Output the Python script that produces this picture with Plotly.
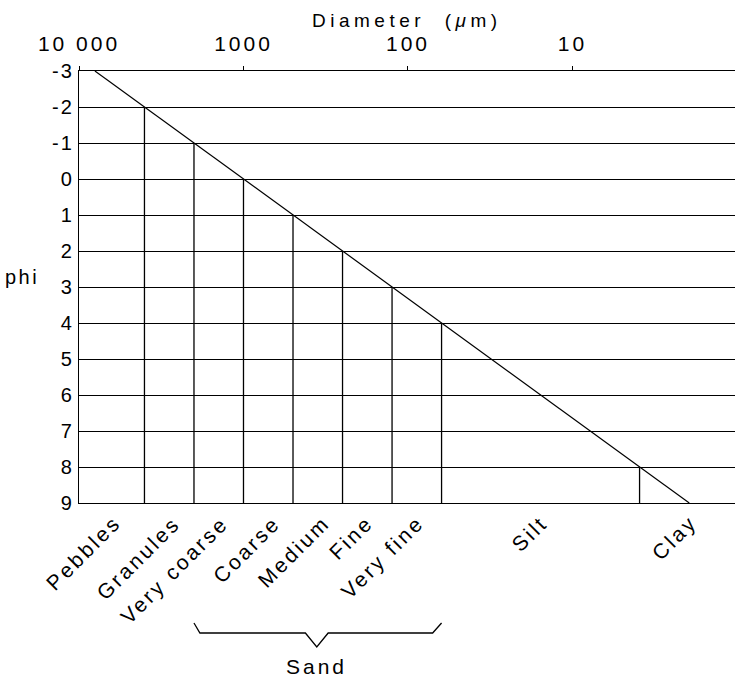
import math
import plotly.graph_objects as go

# ---- data ----
phi_levels = [-3, -2, -1, 0, 1, 2, 3, 4, 5, 6, 7, 8, 9]
diameter_um = [8000, 4000, 2000, 1000, 500, 250, 125, 62.5, 31.25, 15.63, 7.81, 3.91, 1.95]
boundary_phi = [-2, -1, 0, 1, 2, 3, 4, 8]
boundary_um = [4000, 2000, 1000, 500, 250, 125, 62.5, 3.91]
classes = ["Pebbles", "Granules", "Very coarse", "Coarse", "Medium", "Fine", "Very fine", "Silt", "Clay"]
x_tickvals = [10000, 1000, 100, 10]
x_ticktext = ["10 000", "1000", "100", "10"]
y_tickvals = phi_levels
y_ticktext = ["-3", "-2", "-1", "0", "1", "2", "3", "4", "5", "6", "7", "8", "9"]

# ---- layout helpers (positions only) ----
FONT = "Liberation Sans, Arial, Helvetica, sans-serif"
W, H = 735, 678
ML, MR, MT, MB = 79, 0, 71, 175
PH = H - MT - MB


def d_of(phi):
    return 1000.0 * 2 ** (-phi)


def sp(text, px):
    return f'<span style="letter-spacing:{px}px">{text}</span>'


label_phi = [-2.32, -1.13, -0.16, 0.88, 1.89, 2.76, 3.80, 6.28, 9.30]

fig = go.Figure()

# diagonal phi-diameter line
fig.add_trace(go.Scatter(x=diameter_um, y=phi_levels, mode="lines",
                         line=dict(color="black", width=1.2),
                         hoverinfo="skip", showlegend=False))

# vertical class boundaries
vx, vy = [], []
for d, p in zip(boundary_um, boundary_phi):
    vx += [d, d, None]
    vy += [p, 9, None]
fig.add_trace(go.Scatter(x=vx, y=vy, mode="lines",
                         line=dict(color="black", width=1.3),
                         hoverinfo="skip", showlegend=False))

ann = []
for name, p in zip(classes, label_phi):
    ann.append(dict(x=math.log10(d_of(p)), xref="x", y=0, yref="paper",
                    yshift=-5, xanchor="right", yanchor="top", textangle=-45,
                    text=sp(name, 2.8), showarrow=False,
                    font=dict(family=FONT, size=21, color="black")))

# Sand bracket
br = [(-1, 120), (-0.88, 130), (1.25, 130), (1.48, 144), (1.71, 130), (3.82, 130), (4, 120)]
path = ""
for i, (p, px) in enumerate(br):
    path += ("M" if i == 0 else "L") + f"{d_of(p)},{-px / PH}"
shapes = [dict(type="path", xref="x", yref="paper", path=path,
               line=dict(color="black", width=1.3))]
ann.append(dict(x=math.log10(d_of(1.48)), xref="x", y=0, yref="paper", yshift=-163,
                xanchor="center", yanchor="middle", text=sp("Sand", 3), showarrow=False,
                font=dict(family=FONT, size=21, color="black")))

# axis titles as annotations
ann.append(dict(x=0.5, xref="paper", y=1, yref="paper", yshift=51,
                xanchor="center", yanchor="middle",
                text=sp("Diameter  (<i>μ</i>m)", 4.5), showarrow=False,
                font=dict(family=FONT, size=19, color="black")))
ann.append(dict(x=0, xref="paper", xshift=-57, y=2.72, yref="y",
                xanchor="center", yanchor="middle", text=sp("phi", 2.5), showarrow=False,
                font=dict(family=FONT, size=20, color="black")))

fig.update_layout(
    width=W, height=H,
    margin=dict(l=ML, r=MR, t=MT, b=MB, pad=0),
    paper_bgcolor="white", plot_bgcolor="white",
    showlegend=False,
    annotations=ann, shapes=shapes,
    font=dict(family=FONT, size=20, color="black"),
    xaxis=dict(type="log", range=[4, 0.012], side="top",
               tickvals=x_tickvals, ticktext=[sp(t, 3) for t in x_ticktext],
               ticks="outside", ticklen=4, tickwidth=1.3, tickcolor="black",
               ticklabelstandoff=6,
               showgrid=False, zeroline=False,
               showline=True, linecolor="black", linewidth=1.3, mirror=True,
               tickfont=dict(family=FONT, size=21, color="black")),
    yaxis=dict(range=[9, -3], tickvals=y_tickvals, ticktext=[sp(t, 2) for t in y_ticktext],
               ticks="", ticklabelstandoff=0,
               showgrid=True, gridcolor="black", gridwidth=1.2, zeroline=False,
               showline=True, linecolor="black", linewidth=1.3, mirror=False,
               tickfont=dict(family=FONT, size=20, color="black")),
)

fig.write_html("out.html")
